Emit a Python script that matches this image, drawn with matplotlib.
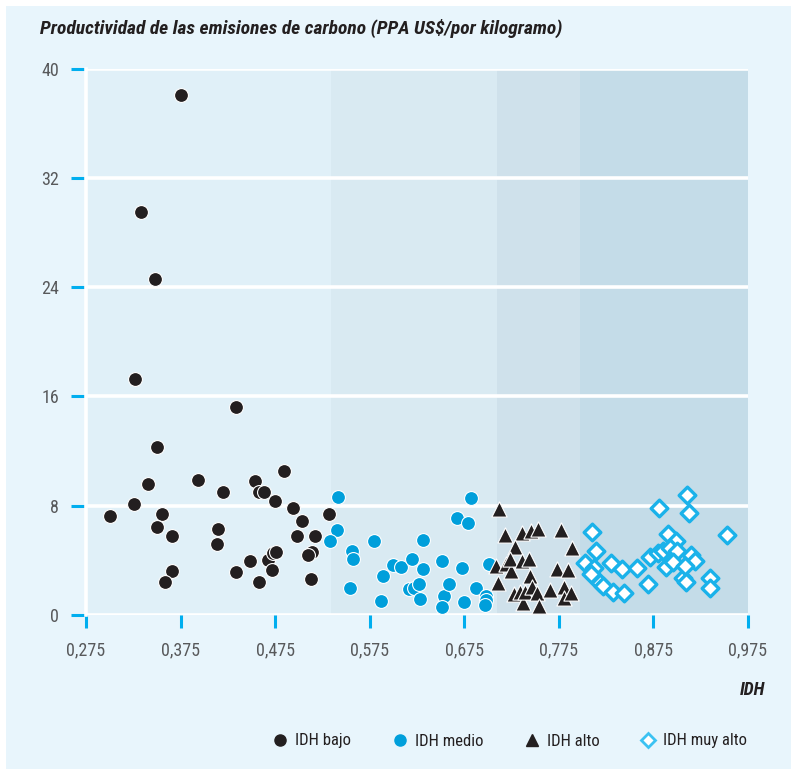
import matplotlib
matplotlib.use("Agg")
import matplotlib.pyplot as plt
from matplotlib.lines import Line2D
import numpy as np

plt.rcParams['font.family'] = ['Roboto Condensed', 'Open Sans Condensed', 'DejaVu Sans']
plt.rcParams['font.stretch'] = 'condensed'

# Carbon productivity (PPP US$ per kg CO2) against HDI, by HDI group
idh_bajo_x = [0.375, 0.333, 0.348, 0.327, 0.434, 0.350, 0.341, 0.394, 0.420, 0.454,
              0.458, 0.463, 0.484, 0.475, 0.494, 0.503, 0.498, 0.517, 0.532, 0.514,
              0.510, 0.513, 0.326, 0.300, 0.355, 0.350, 0.366, 0.366, 0.359, 0.415,
              0.414, 0.434, 0.449, 0.458, 0.468, 0.473, 0.476, 0.472]
idh_bajo_y = [38.1, 29.5, 24.6, 17.3, 15.2, 12.3, 9.6, 9.9, 9.0, 9.8,
              9.0, 9.0, 10.5, 8.3, 7.8, 6.9, 5.8, 5.8, 7.4, 4.6,
              4.4, 2.6, 8.1, 7.2, 7.4, 6.4, 5.8, 3.2, 2.4, 6.3,
              5.2, 3.1, 3.9, 2.4, 4.0, 4.5, 4.6, 3.3]

idh_medio_x = [0.542, 0.541, 0.533, 0.556, 0.557, 0.554, 0.580, 0.587, 0.589, 0.600,
               0.608, 0.620, 0.632, 0.631, 0.617, 0.622, 0.627, 0.628, 0.652, 0.654,
               0.652, 0.659, 0.667, 0.679, 0.682, 0.673, 0.675, 0.688, 0.698, 0.698,
               0.697, 0.701]
idh_medio_y = [8.62, 6.17, 5.43, 4.63, 4.07, 1.98, 5.43, 1.00, 2.86, 3.65,
               3.48, 4.09, 5.48, 3.33, 1.86, 1.94, 2.23, 1.15, 3.96, 1.37,
               0.59, 2.23, 7.12, 6.71, 8.55, 3.41, 0.93, 1.94, 1.39, 1.08,
               0.71, 3.74]

idh_alto_x = [0.712, 0.718, 0.736, 0.746, 0.753, 0.777, 0.789, 0.729, 0.709, 0.719,
              0.725, 0.724, 0.736, 0.744, 0.711, 0.745, 0.728, 0.734, 0.737, 0.739,
              0.747, 0.752, 0.754, 0.773, 0.785, 0.766, 0.781, 0.781, 0.788]
idh_alto_y = [7.74, 5.85, 5.98, 6.15, 6.27, 6.22, 4.88, 4.95, 3.58, 3.70,
              3.23, 4.07, 3.94, 4.07, 2.35, 2.84, 1.52, 1.69, 0.88, 1.69,
              2.01, 1.62, 0.66, 3.36, 3.28, 1.81, 2.01, 1.25, 1.57]

idh_muy_alto_x = [0.911, 0.881, 0.913, 0.810, 0.953, 0.815, 0.803, 0.812, 0.809, 0.819,
                  0.822, 0.830, 0.842, 0.833, 0.844, 0.858, 0.869, 0.872, 0.880, 0.885,
                  0.891, 0.899, 0.893, 0.900, 0.889, 0.896, 0.907, 0.910, 0.915, 0.919,
                  0.909, 0.935, 0.935]
idh_muy_alto_y = [8.74, 7.81, 7.44, 6.09, 5.85, 4.68, 3.82, 3.41, 2.97, 2.31,
                  2.11, 3.77, 3.33, 1.69, 1.57, 3.41, 2.23, 4.21, 4.55, 4.68,
                  5.90, 5.41, 4.88, 4.70, 3.48, 3.89, 2.67, 2.42, 4.36, 3.96,
                  3.58, 2.67, 1.94]

# HDI group limits used for the shaded bands
limites = [0.275, 0.534, 0.710, 0.798, 0.975]
colores_banda = ['#e0f0f8', '#d9eaf2', '#cfe1eb', '#c4dce8']

x_ticks = [0.275, 0.375, 0.475, 0.575, 0.675, 0.775, 0.875, 0.975]
y_ticks = [0, 8, 16, 24, 32, 40]

fondo = '#e8f5fc'
cian = '#00aeef'
negro = '#231f20'
azul = '#009fdb'
gris = '#58595b'

fig = plt.figure(figsize=(7.91, 7.69), dpi=100)
fig.patch.set_facecolor('white')
# light panel behind the whole chart, leaving a thin white margin top and left
fig.patches.append(plt.Rectangle((6 / 791, 0), 1, 1 - 6 / 769, transform=fig.transFigure,
                                 facecolor=fondo, edgecolor='none', zorder=-5))

ax = fig.add_axes([0.1087, 0.2007, 0.8366, 0.7096])
ax.set_facecolor(fondo)
ax.set_xlim(0.275, 0.975)
ax.set_ylim(0, 40)

for i in range(len(colores_banda)):
    ax.axvspan(limites[i], limites[i + 1], color=colores_banda[i], lw=0, zorder=0.2)

ax.set_axisbelow(True)
ax.grid(axis='y', color='white', linewidth=2.6)
ax.grid(axis='x', visible=False)

for s in ['top', 'right', 'bottom']:
    ax.spines[s].set_visible(False)
ax.spines['left'].set_color('white')
ax.spines['left'].set_linewidth(2.6)

ax.set_xticks(x_ticks)
ax.set_xticklabels([f'{v:.3f}'.replace('.', ',') for v in x_ticks])
ax.set_yticks(y_ticks)
ax.tick_params(axis='both', colors=cian, width=2.2, labelcolor=gris, labelsize=13)
ax.tick_params(axis='y', length=10.5, pad=9)
ax.tick_params(axis='x', length=9.5, pad=10)

kw = dict(edgecolors='white', linewidths=0.8, zorder=3)
ax.scatter(idh_bajo_x, idh_bajo_y, s=100, marker='o', c=negro, **kw)
ax.scatter(idh_medio_x, idh_medio_y, s=100, marker='o', c=azul, **kw)
ax.scatter(idh_alto_x, idh_alto_y, s=120, marker='^', c=negro, **kw)
ax.scatter(idh_muy_alto_x, idh_muy_alto_y, s=72, marker='D', c='white',
           edgecolors='#1ab2ea', linewidths=2.4, zorder=3)

fig.text(40 / 791, 1 - 28 / 769,
         'Productividad de las emisiones de carbono (PPA US$/por kilogramo)',
         fontsize=14, fontweight='bold', fontstyle='italic', color=negro,
         ha='left', va='center')
fig.text(765 / 791, 1 - 690 / 769, 'IDH', fontsize=13, fontweight='bold',
         fontstyle='italic', color=negro, ha='right', va='center')

handles = [
    Line2D([], [], ls='none', marker='o', ms=8, mfc=negro, mec=negro),
    Line2D([], [], ls='none', marker='o', ms=8, mfc=azul, mec=azul),
    Line2D([], [], ls='none', marker='^', ms=8, mfc=negro, mec=negro),
    Line2D([], [], ls='none', marker='D', ms=7, mfc='white', mec='#3cc2f2', mew=2),
]
etiquetas = ['IDH bajo', 'IDH medio', 'IDH alto', 'IDH muy alto']
fig.legend(handles, etiquetas, loc='center', bbox_to_anchor=(0.645, 1 - 741 / 769),
           ncol=4, frameon=False, fontsize=12, labelcolor=negro,
           handlelength=0.8, handletextpad=0.5, columnspacing=2.5)

plt.savefig('out.png', dpi=100, facecolor=fig.get_facecolor())
